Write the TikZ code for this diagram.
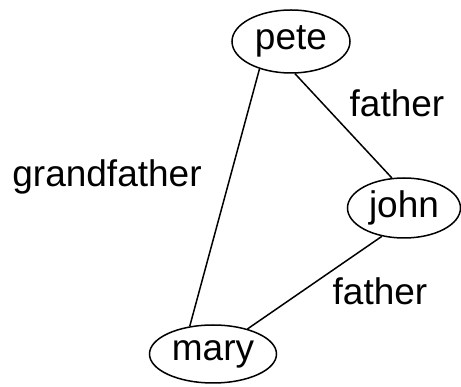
\documentclass[tikz,border=0pt]{standalone}
\usepackage{fontspec}
\setmainfont{Liberation Sans}
\usetikzlibrary{shapes.geometric}
\begin{document}
\begin{tikzpicture}[x=1pt,y=-1pt,
  person/.style={draw, ellipse, line width=1.5pt, inner sep=0pt, font=\fontsize{37}{40}\selectfont},
  lbl/.style={anchor=base, inner sep=0pt, font=\fontsize{37}{40}\selectfont},
  edge/.style={line width=1.5pt}]
\useasboundingbox (0,0) rectangle (461,387);
\node[person, minimum width=118pt, minimum height=63pt] (pete) at (291,41.5) {pete};
\node[person, minimum width=113pt, minimum height=60pt] (john) at (404,208) {john};
\node[person, minimum width=127pt, minimum height=58pt] (mary) at (213,354) {mary};
\draw[edge] (pete.-139) -- (mary.130);
\draw[edge] (pete.-83) -- (john.112);
\draw[edge] (john.-128) -- (mary.36);
\node[lbl] (l1) at (397,117) {father};
\node[lbl] (l2) at (107,187) {grandfather};
\node[lbl] (l3) at (380,305) {father};
\end{tikzpicture}
\end{document}
